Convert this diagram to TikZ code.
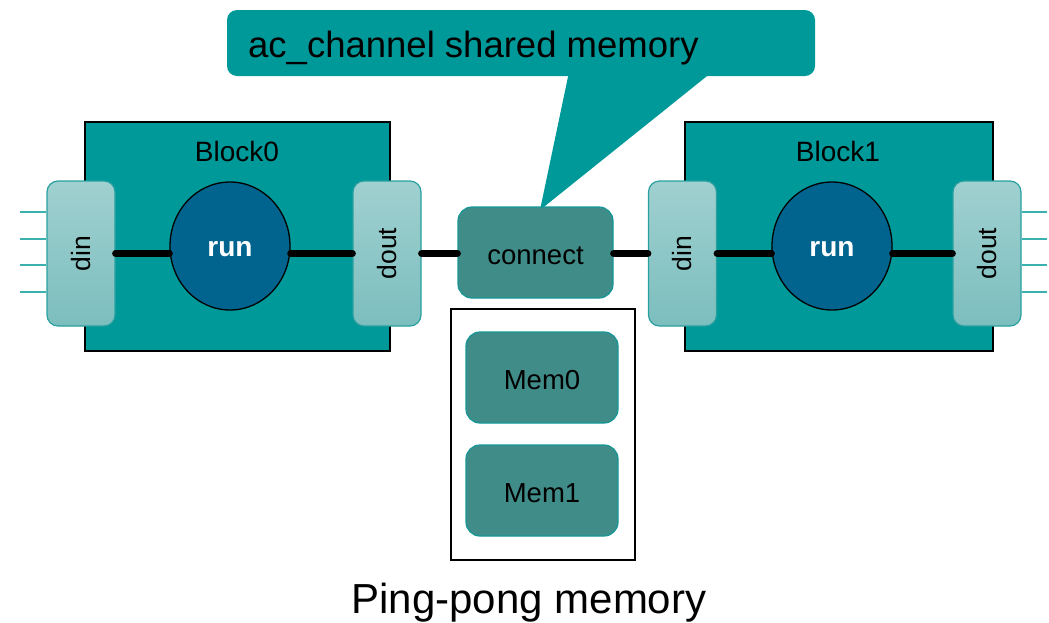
\documentclass[tikz,border=0pt]{standalone}
\usepackage{fontspec}
\setmainfont{Liberation Sans}
\usetikzlibrary{shapes.geometric,calc}

\definecolor{tealbg}{RGB}{0,153,153}
\definecolor{runblue}{RGB}{0,100,143}
\definecolor{memfill}{RGB}{64,140,136}
\definecolor{memedge}{RGB}{20,150,150}
\definecolor{porttop}{RGB}{160,208,208}
\definecolor{portbot}{RGB}{124,190,190}
\definecolor{portedge}{RGB}{40,160,160}
\definecolor{stubcol}{RGB}{60,175,175}

\newcommand{\fsz}[1]{\fontsize{#1}{#1}\selectfont}
% lower a label a little without changing the box TikZ centres on
\newcommand{\lowertext}[1]{\raisebox{-3pt}[\height][\depth]{#1}}

\tikzset{
  blockbox/.style={draw=black, line width=1.5pt, fill=tealbg,
    minimum width=#1, minimum height=229, inner sep=0pt},
  portbox/.style={draw=portedge, line width=1.2pt, top color=porttop,
    bottom color=portbot, rounded corners=11, minimum width=68,
    minimum height=145, inner sep=0pt, font=\fsz{26.5}},
  runnode/.style={ellipse, draw=black, line width=1.3pt, fill=runblue,
    minimum width=120, minimum height=128, inner sep=0pt,
    text=white, font=\fsz{28}\bfseries},
  membox/.style={draw=memedge, line width=1.2pt, fill=memfill,
    rounded corners=14, minimum width=#1, minimum height=91, inner sep=0pt,
    font=\fsz{27.5}},
  wire/.style={line width=7pt, line cap=round},
  stub/.style={draw=stubcol, line width=1.4pt},
  blocklabel/.style={font=\fsz{28}},
}

\begin{document}
\begin{tikzpicture}[x=1pt, y=-1pt]
\useasboundingbox (0,0) rectangle (1049,622);

% speech bubble naming the channel
\node[fill=tealbg, rounded corners=10, minimum width=588, minimum height=66,
      inner sep=0pt] (callout) at (521,43) {};
\node[anchor=base west, inner sep=0pt, font=\fsz{36.5}] (callouttext)
  at (248,57) {ac\_channel shared memory};
\coordinate (tip) at (540,210);
\fill[tealbg] ($(callout.south west)+(343,-8)$) -- (tip)
  -- ($(callout.south west)+(490,-8)$) -- cycle;

% processing blocks
\node[blockbox=305] (block0) at (237.5,236.5) {};
\node[blockbox=308] (block1) at (839,236.5) {};
\node[blocklabel] (lab0) at (237,151) {Block0};
\node[blocklabel] (lab1) at (838,151) {Block1};

% ports
\node[portbox] (din0)  at (81,253.5)   {\rotatebox{90}{din}};
\node[portbox] (dout0) at (387,253.5)  {\rotatebox{90}{dout}};
\node[portbox] (din1)  at (682.5,253.5){\rotatebox{90}{din}};
\node[portbox] (dout1) at (987,253.5)  {\rotatebox{90}{dout}};

% run processes
\node[runnode] (run0) at (230,246) {\lowertext{run}};
\node[runnode] (run1) at (832,246) {\lowertext{run}};

% channel and its ping-pong buffers
\node[membox=155] (connect) at (535.5,252.5) {\lowertext{connect}};
\node[draw=black, line width=2.5pt, minimum width=184, minimum height=251,
      inner sep=0pt] (pingpong) at (543,434.5) {};
\node[membox=152] (mem0) at (542,377.5) {\lowertext{Mem0}};
\node[membox=152] (mem1) at (542,490.5) {\lowertext{Mem1}};

% data path
\draw[wire] (din0.east) -- (din0.east -| run0.west);
\draw[wire] (dout0.west -| run0.east) -- (dout0.west);
\draw[wire] (dout0.east) -- (dout0.east -| connect.west);
\draw[wire] (connect.east |- din1.west) -- (din1.west);
\draw[wire] (din1.east) -- (din1.east -| run1.west);
\draw[wire] (dout1.west -| run1.east) -- (dout1.west);

% external input / output stubs
\foreach \yy [count=\i] in {212,239,265,292} {
  \coordinate (inEnd\i) at (20,\yy);
  \coordinate (outEnd\i) at (1047,\yy);
  \draw[stub] (inEnd\i) -- (inEnd\i -| din0.west);
  \draw[stub] (dout1.east |- outEnd\i) -- (outEnd\i);
}

\node[font=\fsz{42}, anchor=base] (caption) at (529,613) {Ping-pong memory};
\end{tikzpicture}
\end{document}
